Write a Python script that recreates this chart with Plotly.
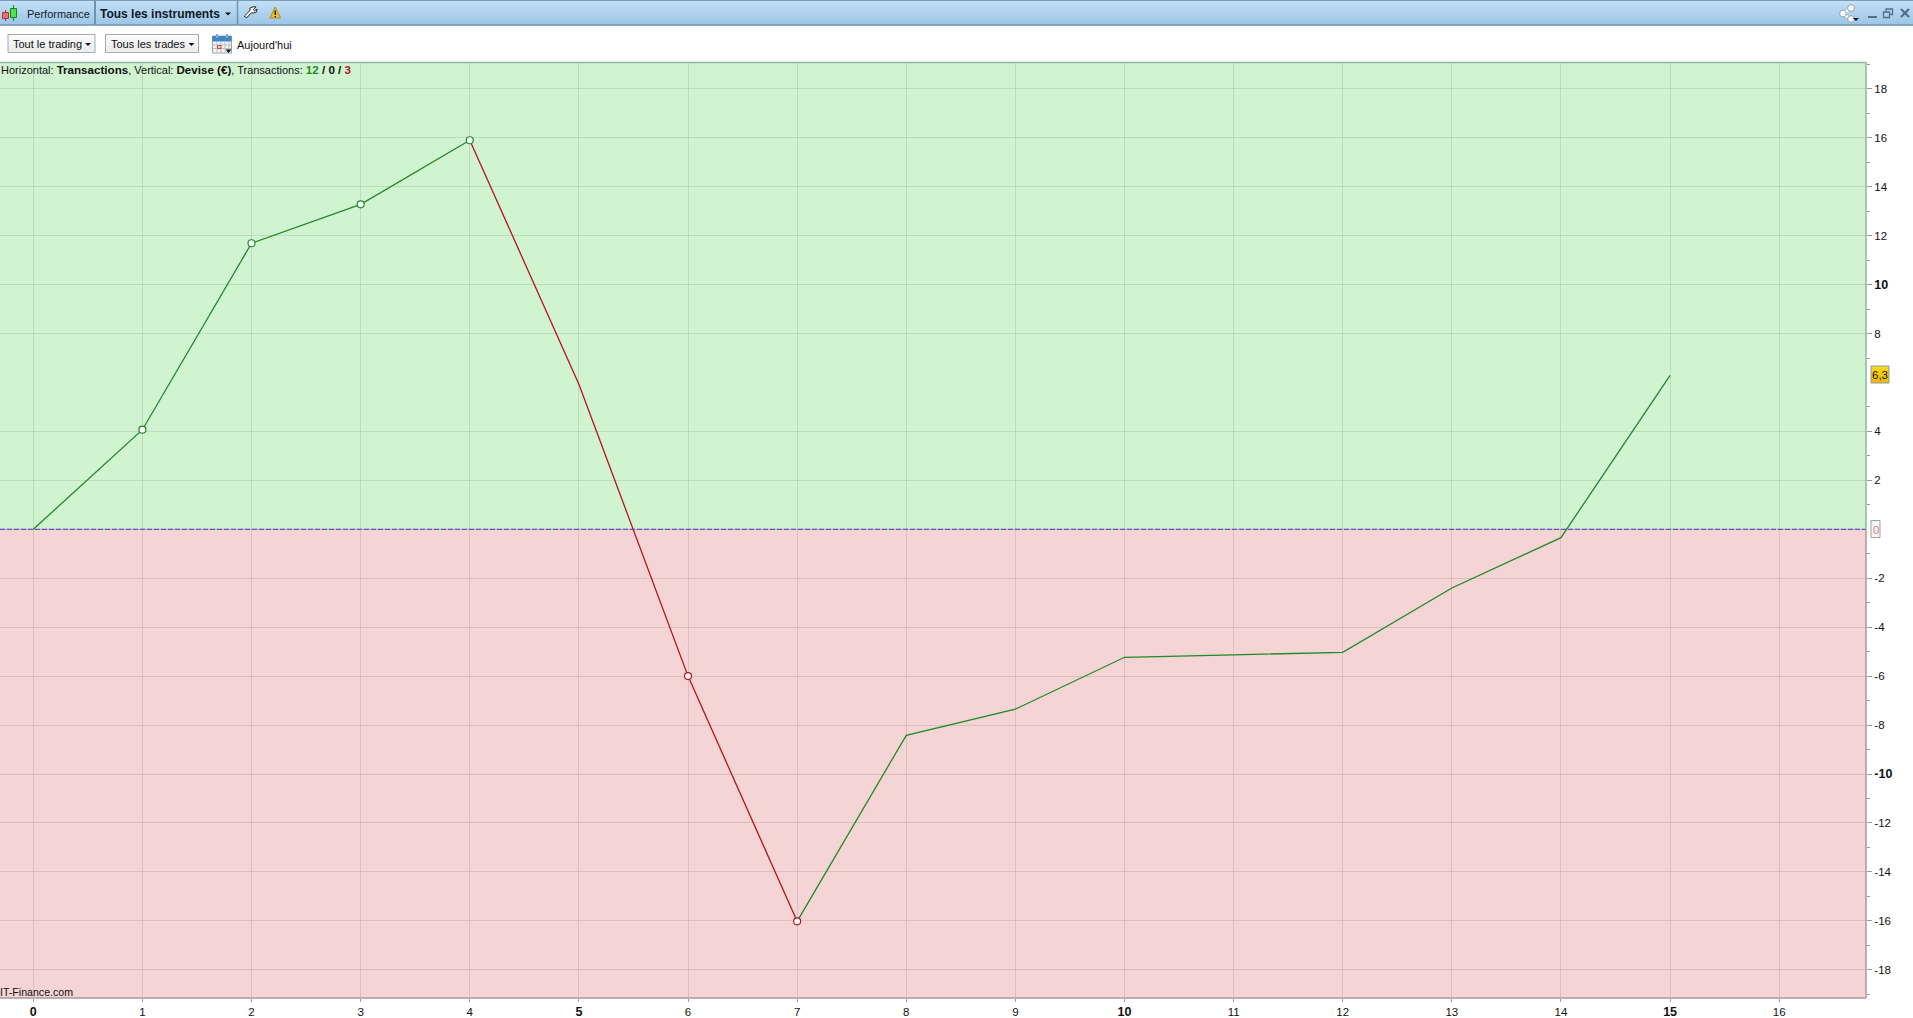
import plotly.graph_objects as go

# ---------- data ----------
transactions = list(range(16))
equity = [0, 4.07, 11.69, 13.28, 15.9, 5.93, -6.0, -16.02, -8.42, -7.35, -5.23, -5.13, -5.03, -2.4, -0.34, 6.29]
green_runs = [(0, 4), (7, 15)]
red_runs = [(4, 7)]
green_markers = [1, 2, 3, 4]
red_markers = [6, 7]
x_ticks = list(range(17))
x_bold = [0, 5, 10, 15]
y_ticks = [v for v in range(-18, 19, 2) if v not in (0, 6)]
y_bold = [10, -10]
last_value_label = "6,3"

# ---------- page geometry ----------
W, H = 1913, 1018
L, R, T, B = 0, 1866, 62, 998
X_PER_UNIT = 109.12
Y_PER_UNIT = 24.47
X0_PX, Y0_PX = 33.3, 529.3
FONT = "Liberation Sans, Arial, sans-serif"
GREEN = "#1e8a2a"
RED = "#b5141e"


def px(x):
    return (x - L) / (R - L)


def py(y):
    return (B - y) / (B - T)


shapes = []
annotations = []


def rect(x0, y0, x1, y1, fill=None, line=None, lw=1):
    shapes.append(dict(type="rect", xref="paper", yref="paper", x0=px(x0), x1=px(x1), y0=py(y0), y1=py(y1),
                       fillcolor=fill or "rgba(0,0,0,0)",
                       line=dict(color=line or "rgba(0,0,0,0)", width=lw if line else 0), layer="above"))


def seg(x0, y0, x1, y1, color, lw=1):
    shapes.append(dict(type="line", xref="paper", yref="paper", x0=px(x0), x1=px(x1), y0=py(y0), y1=py(y1),
                       line=dict(color=color, width=lw), layer="above"))


def poly(points, fill, line=None, lw=1):
    d = "M " + " L ".join(f"{px(a):.5f},{py(b):.5f}" for a, b in points) + " Z"
    shapes.append(dict(type="path", xref="paper", yref="paper", path=d, fillcolor=fill,
                       line=dict(color=line or fill, width=lw if line else 0), layer="above"))


def circ(cx, cy, r, fill, line=None, lw=1):
    shapes.append(dict(type="circle", xref="paper", yref="paper", x0=px(cx - r), x1=px(cx + r),
                       y0=py(cy - r), y1=py(cy + r), fillcolor=fill,
                       line=dict(color=line or fill, width=lw if line else 0), layer="above"))


def text(x, y, s, size=11, color="#111111", anchor="left"):
    annotations.append(dict(xref="paper", yref="paper", x=px(x), y=py(y), text=s, showarrow=False, xanchor=anchor,
                            yanchor="middle", align="left", font=dict(family=FONT, size=size, color=color),
                            borderpad=0, borderwidth=0))


def lerp(c0, c1, t):
    return "rgb(" + ",".join(str(round(a + (b - a) * t)) for a, b in zip(c0, c1)) + ")"


# white page strip under title bar
rect(0, 0, W, T, "#ffffff")

# title bar gradient
for i in range(25):
    rect(0, i, W, i + 1, lerp((196, 224, 246), (156, 198, 230), i / 24))
seg(0, 0.5, W, 0.5, "#7a9cb8", 1)
seg(0, 25, W, 25, "#6f93b0", 1.5)
seg(95, 0, 95, 25, "#6f93b0", 2)
seg(237.5, 0, 237.5, 25, "#6f93b0", 1.5)

# candle icon
seg(5.5, 10, 5.5, 21, "#a03030", 1)
rect(2.5, 12.5, 8.5, 18.5, "#f0706a", "#a83838")
seg(13.5, 5, 13.5, 21, "#108a20", 1)
rect(10.5, 8.5, 16.5, 17.5, "#50e050", "#108a20")

text(27, 14.5, "Performance", 11, "#14202c")
text(100, 14.5, "<b>Tous les instruments</b>", 12, "#10181f")
poly([(225, 12.5), (231, 12.5), (228, 15.5)], "#111111")

# wrench icon
poly([(244.5, 16), (250, 10.5), (250, 8), (253, 6.8), (256, 6.8), (253.5, 9.5), (254.5, 10.8), (257, 9), (256.5, 12),
      (253.5, 13), (251.5, 12.8), (246.5, 18)], "#ffffff", "#222222", 1)

# warning icon
poly([(270, 18), (275.2, 7), (280.5, 18)], "#f4c21a", "#a88a2c", 1)
rect(274.5, 10.5, 276, 15, "#222222")
rect(274.5, 16, 276, 17.3, "#222222")


# dropdown buttons
def button(x0, x1, label):
    for i in range(17):
        rect(x0, 34.5 + i, x1, 35.5 + i, lerp((252, 252, 252), (228, 228, 228), i / 16))
    rect(x0, 34.5, x1, 52.5, None, "#a3abb0", 1)
    text(x0 + 5, 44, label, 11, "#111111")
    poly([(x1 - 10, 43), (x1 - 4, 43), (x1 - 7, 46)], "#111111")


button(8, 95, "Tout le trading")
button(105.5, 198.5, "Tous les trades")

# calendar icon
rect(212.5, 36, 231.5, 53, "#f2f4f6", "#9aa4ac")
rect(212.5, 36, 231.5, 41.5, "#3c88c8")
rect(216, 34, 218, 38, "#8fa4b6")
rect(226, 34, 228, 38, "#8fa4b6")
for gx in (217, 221, 225, 229):
    seg(gx, 42, gx, 52.5, "#b8c0c6", 1)
for gy in (45, 48.5):
    seg(213, gy, 231, gy, "#b8c0c6", 1)
rect(217.5, 45.5, 221, 48.5, "#ffd0d0", "#e04040")
poly([(225.5, 49.5), (231.5, 49.5), (228.5, 53)], "#111111")
text(237, 44.5, "Aujourd'hui", 11, "#111111")

# plot backgrounds
shapes.append(dict(type="rect", xref="paper", yref="y", x0=0, x1=1, y0=0, y1=19.2, fillcolor="#d0f3d0",
                   line=dict(width=0), layer="below"))
shapes.append(dict(type="rect", xref="paper", yref="y", x0=0, x1=1, y0=-19.2, y1=0, fillcolor="#f4d4d4",
                   line=dict(width=0), layer="below"))

# zero line, orange under blue dashes
shapes.append(dict(type="line", xref="paper", yref="y", x0=0, x1=1, y0=0, y1=0,
                   line=dict(color="#ee9a7a", width=1), layer="between"))
shapes.append(dict(type="line", xref="paper", yref="y", x0=0, x1=1, y0=0, y1=0,
                   line=dict(color="#2a48f0", width=1, dash="5px,2px"), layer="between"))

# frame
seg(0, 62.5, R, 62.5, "#8fb8a0", 1.5)
seg(R, 62, R, Y0_PX, "#8fb3a0", 1.5)
seg(R, Y0_PX, R, B, "#ab979b", 1.5)
seg(0, B, R, B, "#ab979b", 1.5)

# header text inside plot
HB = "<span style='font-size:11.6px'><b>%s</b></span>"
text(1, 70, "Horizontal: " + HB % "Transactions" + ", Vertical: " + HB % "Devise (€)" + ", Transactions: "
            + HB % "<span style='color:#1e8a2a'>12</span> / <span style='color:#111111'>0</span> / "
                   "<span style='color:#b5141e'>3</span>", 11, "#111111")
text(0, 992, "IT-Finance.com", 10.6, "#111111")

# value badges
for i in range(17):
    rect(1871, 366 + i, 1889, 367 + i, lerp((255, 218, 20), (240, 184, 0), i / 16))
rect(1871, 366, 1889, 383, None, "#8c9aa0", 1)
text(1880, 375, last_value_label, 11.5, "#111111", "center")
rect(1871, 520.5, 1880, 537.5, "#f6f6f6", "#97a3a8", 1)
text(1875.5, 530, "0", 11.5, "#e87a88", "center")

# window controls
seg(1843, 14, 1851, 8, "#ffffff", 2.2)
seg(1843, 14, 1851, 19, "#ffffff", 2.2)
for cx, cy in ((1851, 8), (1843, 13.5), (1851, 19)):
    circ(cx, cy, 3.4, "#ffffff", "#8aa0b2", 1)
poly([(1853, 18), (1859, 18), (1856, 21)], "#111111")
seg(1868, 17, 1877, 17, "#4f7088", 2)
rect(1886, 9, 1892.5, 14.5, None, "#4f7088", 1.3)
rect(1883.5, 12, 1889.5, 17.5, "#aed2ee", "#4f7088", 1.3)
seg(1901, 9, 1909, 17, "#4f7088", 2.2)
seg(1909, 9, 1901, 17, "#4f7088", 2.2)

# ---------- traces ----------
fig = go.Figure()
for runs, color in ((green_runs, GREEN), (red_runs, RED)):
    for a, b in runs:
        fig.add_trace(go.Scatter(x=transactions[a:b + 1], y=equity[a:b + 1], mode="lines",
                                 line=dict(color=color, width=1.3), hoverinfo="skip", showlegend=False))
for idx, color in ((green_markers, GREEN), (red_markers, RED)):
    fig.add_trace(go.Scatter(x=[transactions[i] for i in idx], y=[equity[i] for i in idx], mode="markers",
                             marker=dict(size=7, color="#ffffff", line=dict(color=color, width=1.2)),
                             hoverinfo="skip", showlegend=False))

GRID = "rgba(60,60,60,0.13)"
BOLD = "<span style='font-size:12.5px'><b>%s</b></span>"
fig.update_layout(
    width=W, height=H, autosize=False,
    margin=dict(l=L, r=W - R, t=T, b=H - B, pad=0),
    paper_bgcolor="#ffffff", plot_bgcolor="rgba(0,0,0,0)",
    font=dict(family=FONT, size=12, color="#111111"),
    showlegend=False, shapes=shapes, annotations=annotations,
    xaxis=dict(range=[(L - X0_PX) / X_PER_UNIT, (R - X0_PX) / X_PER_UNIT],
               tickmode="array", tickvals=x_ticks,
               ticktext=[BOLD % v if v in x_bold else str(v) for v in x_ticks],
               showgrid=True, gridcolor=GRID, gridwidth=1, zeroline=False, showline=False,
               ticks="outside", ticklen=3, tickcolor="#a8989c", tickfont=dict(size=11.5, color="#111111")),
    yaxis=dict(range=[(Y0_PX - B) / Y_PER_UNIT, (Y0_PX - T) / Y_PER_UNIT], side="right",
               tickmode="array", tickvals=y_ticks,
               ticktext=[BOLD % v if v in y_bold else str(v) for v in y_ticks],
               showgrid=True, gridcolor=GRID, gridwidth=1, zeroline=False, showline=False,
               ticks="outside", ticklen=5, tickcolor="#8fa59c", tickfont=dict(size=11.5, color="#111111"),
               minor=dict(dtick=2, tick0=1, ticks="outside", ticklen=3, tickcolor="#8fa59c", showgrid=False)),
)

fig.write_html("out.html", config=dict(displayModeBar=False),
               post_script="document.body.style.margin='0';document.body.style.overflow='hidden';")
